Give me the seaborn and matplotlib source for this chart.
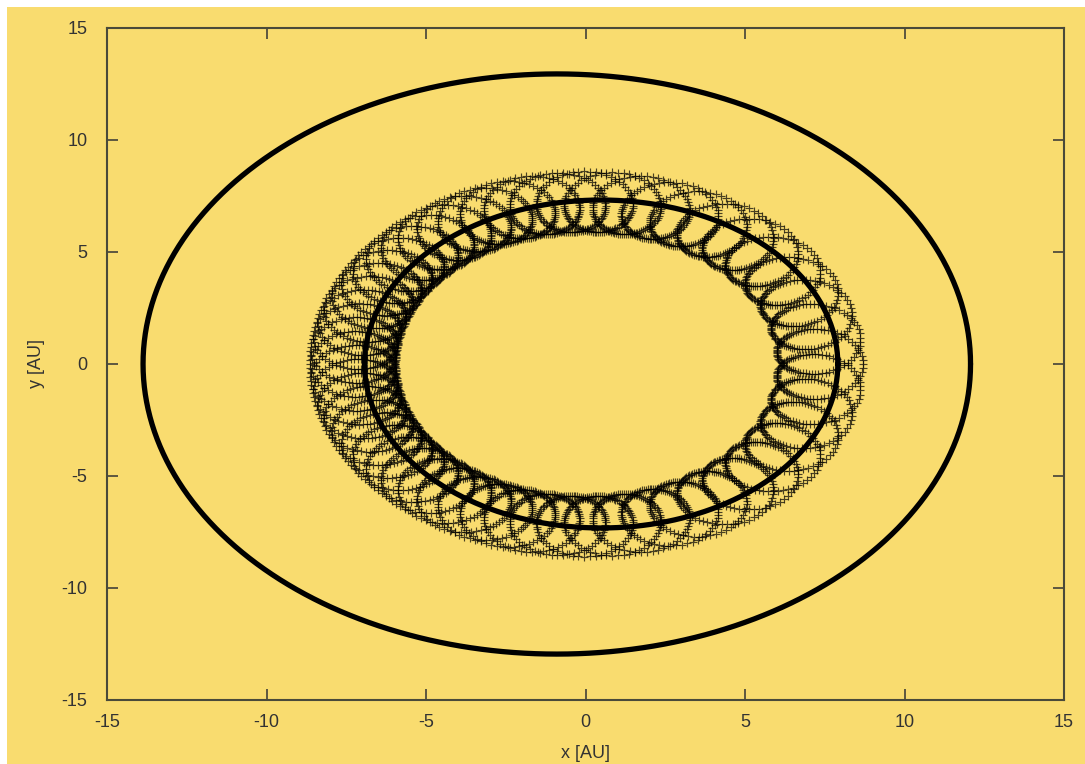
import numpy as np
import pandas as pd
import matplotlib
matplotlib.use("Agg")
import matplotlib.pyplot as plt
import seaborn as sns
from matplotlib.patches import Rectangle

# Orbit ellipses (outer planet, inner planet): centre x, semi-axes [AU]
ellipse_names = ["outer", "inner"]
ellipse_cx = [-0.90, 0.49]
ellipse_a = [12.97, 7.42]
ellipse_b = [12.95, 7.32]

# Moon: guiding-centre path, eccentricity of its angular rate, epicycle size
guide_cx = 0.03
guide_rx = 7.33
guide_ry = 7.25
guide_ecc = 0.15
moon_radius = 1.35
moon_ecc = 0.22
loops_per_rev = 54
samples_per_loop = 80

x_ticks = [-15, -10, -5, 0, 5, 10, 15]
y_ticks = [-15, -10, -5, 0, 5, 10, 15]

BG = "#f9dc6f"
INK = "#333333"

sns.set_theme(style="ticks")
plt.rcParams["font.family"] = ["Liberation Sans", "DejaVu Sans"]

W, H, DPI = 1085, 764, 100
fig = plt.figure(figsize=(W / DPI, H / DPI), dpi=DPI, facecolor="white")
fig.patches.append(Rectangle((7 / W, -0.01), 1.02, 1.01 - 7 / H, transform=fig.transFigure,
                             facecolor=BG, edgecolor="none", zorder=-10))
ax = fig.add_axes([107 / W, 1 - 700 / H, (1064 - 107) / W, (700 - 28) / H])
ax.set_facecolor(BG)

# Ellipse tracks
rows = []
th = np.linspace(0, 2 * np.pi, 721)
for name, cx, a, b in zip(ellipse_names, ellipse_cx, ellipse_a, ellipse_b):
    for i, t in enumerate(th):
        rows.append({"orbit": name, "i": i, "x": cx + a * np.cos(t), "y": b * np.sin(t)})
ell = pd.DataFrame(rows)


def kepler_angle(mean_anomaly, ecc):
    E = mean_anomaly.copy()
    for _ in range(40):
        E = E - (E - ecc * np.sin(E) - mean_anomaly) / (1 - ecc * np.cos(E))
    return 2 * np.arctan2(np.sqrt(1 + ecc) * np.sin(E / 2),
                          np.sqrt(1 - ecc) * np.cos(E / 2))


# Moon track: uniform time steps; the guiding centre and the moon's phase
# (measured from the outward radial direction) both follow Kepler timing
n = loops_per_rev * samples_per_loop
t = np.arange(n) / n
nu = kepler_angle(2 * np.pi * t, guide_ecc)
psi = kepler_angle(2 * np.pi * ((loops_per_rev * t) % 1.0), moon_ecc)
phi = nu + psi
moon = pd.DataFrame({
    "x": guide_cx + guide_rx * np.cos(nu) + moon_radius * np.cos(phi),
    "y": guide_ry * np.sin(nu) + moon_radius * np.sin(phi),
})

sns.scatterplot(data=moon, x="x", y="y", marker="+", color="black", s=26,
                linewidth=0.85, alpha=0.7, ax=ax, zorder=2)
for name in ellipse_names:
    sns.lineplot(data=ell[ell.orbit == name], x="x", y="y", sort=False,
                 estimator=None, color="black", lw=3.8, ax=ax, zorder=3)

ax.set_xlim(-15, 15)
ax.set_ylim(-15, 15)
ax.set_xticks(x_ticks)
ax.set_yticks(y_ticks)
ax.set_xticklabels([str(v) for v in x_ticks])
ax.set_yticklabels([str(v) for v in y_ticks])
ax.tick_params(direction="in", length=8, width=1.1, color=INK, labelcolor=INK,
               labelsize=13, top=True, right=True)
ax.tick_params(axis="x", pad=10)
ax.tick_params(axis="y", pad=14)
for s in ax.spines.values():
    s.set_color("#4a4a3a")
    s.set_linewidth(1.5)
ax.set_xlabel("x [AU]", fontsize=13, color=INK, labelpad=10)
ax.set_ylabel("y [AU]", fontsize=13, color=INK, labelpad=12)

fig.savefig("out.png", dpi=DPI, facecolor=fig.get_facecolor())
